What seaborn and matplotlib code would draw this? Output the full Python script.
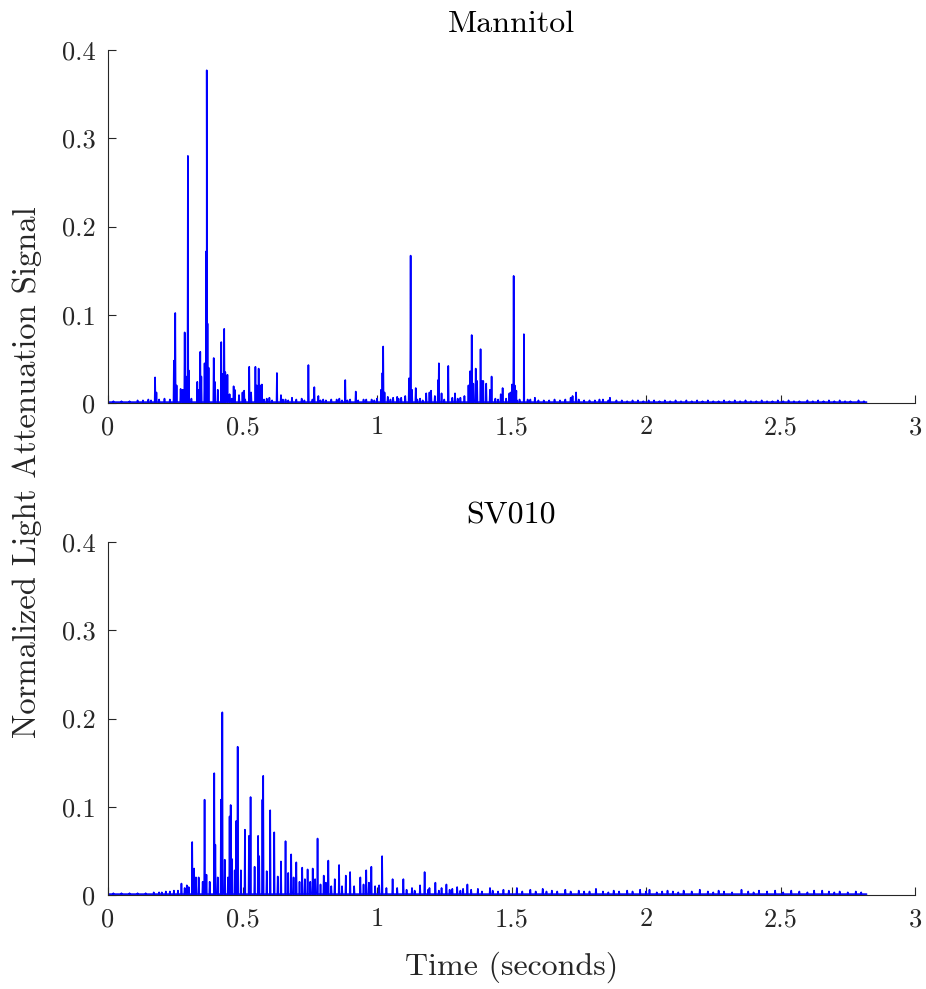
import numpy as np
import pandas as pd
import matplotlib
matplotlib.use("Agg")
import matplotlib.pyplot as plt
import seaborn as sns

# ---------------- data ----------------
titles = ["Mannitol", "SV010"]
x_ticks = [0, 0.5, 1, 1.5, 2, 2.5, 3]
x_tick_labels = ["0", "0.5", "1", "1.5", "2", "2.5", "3"]
y_ticks = [0, 0.1, 0.2, 0.3, 0.4]
y_tick_labels = ["0", "0.1", "0.2", "0.3", "0.4"]
x_label = "Time (seconds)"
y_label = "Normalized Light Attenuation Signal"
signal_start = 0.0
signal_end = 2.82
baseline_level = 0.001

# Mannitol: spike times (s) and heights
mannitol_t = [0.175, 0.180, 0.245, 0.250, 0.255, 0.270, 0.278, 0.285, 0.290, 0.297,
              0.300, 0.332, 0.337, 0.343, 0.347, 0.359, 0.363, 0.3655, 0.367, 0.370,
              0.374, 0.393, 0.397, 0.408, 0.421, 0.426, 0.432, 0.436, 0.444, 0.452,
              0.467, 0.471, 0.487, 0.500, 0.506, 0.525, 0.532, 0.548, 0.553, 0.560,
              0.566, 0.572, 0.590, 0.600, 0.628, 0.643, 0.660, 0.684, 0.720, 0.745,
              0.767, 0.782, 0.800, 0.830, 0.860, 0.882, 0.900, 0.921, 0.950, 0.980,
              1.000, 1.015, 1.020, 1.023, 1.028, 1.040, 1.060, 1.075, 1.090, 1.105,
              1.119, 1.125, 1.130, 1.144, 1.160, 1.183, 1.195, 1.201, 1.215, 1.227,
              1.230, 1.240, 1.265, 1.280, 1.290, 1.310, 1.325, 1.340, 1.346, 1.352,
              1.358, 1.367, 1.372, 1.385, 1.390, 1.395, 1.406, 1.420, 1.426, 1.440,
              1.460, 1.467, 1.480, 1.492, 1.497, 1.502, 1.508, 1.512, 1.518, 1.530,
              1.546, 1.547, 1.560, 1.587, 1.720, 1.727, 1.740, 1.827, 1.866]
mannitol_y = [0.029, 0.012, 0.048, 0.102, 0.020, 0.016, 0.015, 0.080, 0.030, 0.280,
              0.037, 0.024, 0.015, 0.058, 0.030, 0.045, 0.040, 0.172, 0.377, 0.090,
              0.040, 0.051, 0.024, 0.015, 0.069, 0.033, 0.084, 0.035, 0.032, 0.010,
              0.019, 0.015, 0.009, 0.012, 0.014, 0.041, 0.012, 0.041, 0.020, 0.039,
              0.020, 0.021, 0.005, 0.006, 0.034, 0.009, 0.004, 0.006, 0.005, 0.043,
              0.018, 0.008, 0.004, 0.004, 0.005, 0.026, 0.004, 0.013, 0.004, 0.004,
              0.005, 0.015, 0.034, 0.064, 0.012, 0.007, 0.006, 0.007, 0.006, 0.008,
              0.028, 0.167, 0.015, 0.017, 0.005, 0.011, 0.012, 0.014, 0.008, 0.026,
              0.045, 0.011, 0.042, 0.006, 0.011, 0.006, 0.008, 0.020, 0.036, 0.077,
              0.022, 0.039, 0.025, 0.061, 0.025, 0.025, 0.022, 0.015, 0.030, 0.005,
              0.010, 0.017, 0.005, 0.011, 0.012, 0.021, 0.144, 0.020, 0.014, 0.004,
              0.078, 0.041, 0.004, 0.006, 0.006, 0.008, 0.012, 0.004, 0.006]
# Mannitol: low-level background fluctuations
mannitol_noise_t = [0.02, 0.05, 0.08, 0.11, 0.13, 0.15, 0.16, 0.19, 0.21, 0.23,
                    0.31, 0.46, 0.51, 0.58, 0.61, 0.65, 0.67, 0.70, 0.73, 0.76,
                    0.79, 0.81, 0.85, 0.87, 0.89, 0.93, 0.96, 0.99, 1.05, 1.08,
                    1.15, 1.17, 1.25, 1.30, 1.45, 1.52, 1.57, 1.60, 1.62, 1.64,
                    1.66, 1.68, 1.70, 1.75, 1.77, 1.79, 1.81, 1.84, 1.86, 1.89,
                    1.91, 1.93, 1.95, 1.97, 1.99, 2.01, 2.03, 2.05, 2.07, 2.09,
                    2.11, 2.13, 2.15, 2.17, 2.19, 2.21, 2.23, 2.25, 2.27, 2.29,
                    2.31, 2.33, 2.35, 2.37, 2.39, 2.41, 2.43, 2.45, 2.47, 2.49,
                    2.51, 2.53, 2.55, 2.57, 2.60, 2.62, 2.64, 2.66, 2.68, 2.70,
                    2.72, 2.74, 2.76, 2.79, 2.81]
mannitol_noise_y = [0.002, 0.002, 0.002, 0.003, 0.003, 0.004, 0.003, 0.004, 0.005, 0.004,
                    0.005, 0.005, 0.004, 0.004, 0.003, 0.004, 0.003, 0.004, 0.003, 0.004,
                    0.003, 0.003, 0.004, 0.003, 0.003, 0.003, 0.004, 0.003, 0.004, 0.005,
                    0.004, 0.003, 0.004, 0.005, 0.004, 0.003, 0.004, 0.003, 0.003, 0.003,
                    0.004, 0.003, 0.004, 0.004, 0.003, 0.003, 0.003, 0.004, 0.003, 0.003,
                    0.003, 0.002, 0.003, 0.003, 0.002, 0.003, 0.003, 0.002, 0.003, 0.002,
                    0.003, 0.002, 0.003, 0.002, 0.003, 0.002, 0.003, 0.002, 0.002, 0.003,
                    0.002, 0.003, 0.002, 0.003, 0.002, 0.002, 0.003, 0.002, 0.002, 0.003,
                    0.002, 0.003, 0.002, 0.002, 0.003, 0.002, 0.003, 0.002, 0.003, 0.002,
                    0.003, 0.002, 0.002, 0.003, 0.002]

# SV010: spike times (s) and heights
sv010_t = [0.200, 0.215, 0.230, 0.245, 0.260, 0.273, 0.285, 0.293, 0.300, 0.313,
           0.320, 0.327, 0.337, 0.352, 0.359, 0.366, 0.378, 0.395, 0.399, 0.408,
           0.420, 0.425, 0.434, 0.446, 0.452, 0.456, 0.460, 0.471, 0.477, 0.482,
           0.494, 0.509, 0.524, 0.530, 0.545, 0.558, 0.562, 0.574, 0.577, 0.590,
           0.603, 0.618, 0.631, 0.643, 0.660, 0.670, 0.681, 0.690, 0.700, 0.712,
           0.722, 0.732, 0.742, 0.752, 0.761, 0.770, 0.779, 0.790, 0.802, 0.810,
           0.819, 0.830, 0.843, 0.859, 0.870, 0.884, 0.900, 0.915, 0.938, 0.950,
           0.960, 0.970, 0.979, 0.993, 1.008, 1.019, 1.035, 1.058, 1.075, 1.098,
           1.130, 1.160, 1.177, 1.195, 1.217, 1.240, 1.258, 1.280, 1.298, 1.320,
           1.336, 1.375, 1.420, 1.470, 1.520, 1.570, 1.616, 1.650, 1.700, 1.750,
           1.814, 1.880, 1.930, 1.978, 2.013, 2.080, 2.140, 2.200, 2.270, 2.355,
           2.420, 2.480, 2.540, 2.625, 2.655, 2.720, 2.780]
sv010_y = [0.003, 0.004, 0.004, 0.005, 0.005, 0.013, 0.008, 0.011, 0.009, 0.060,
           0.030, 0.020, 0.020, 0.015, 0.108, 0.023, 0.015, 0.138, 0.057, 0.020,
           0.108, 0.207, 0.040, 0.020, 0.089, 0.102, 0.041, 0.028, 0.084, 0.168,
           0.028, 0.074, 0.067, 0.111, 0.032, 0.067, 0.044, 0.108, 0.135, 0.027,
           0.096, 0.071, 0.021, 0.038, 0.061, 0.025, 0.046, 0.020, 0.037, 0.015,
           0.031, 0.018, 0.029, 0.015, 0.030, 0.018, 0.064, 0.012, 0.022, 0.014,
           0.039, 0.010, 0.018, 0.034, 0.010, 0.022, 0.026, 0.010, 0.020, 0.012,
           0.028, 0.014, 0.032, 0.010, 0.011, 0.044, 0.008, 0.018, 0.008, 0.018,
           0.008, 0.011, 0.026, 0.008, 0.014, 0.008, 0.012, 0.007, 0.009, 0.007,
           0.012, 0.007, 0.008, 0.006, 0.008, 0.006, 0.007, 0.005, 0.006, 0.005,
           0.007, 0.005, 0.005, 0.006, 0.006, 0.005, 0.005, 0.006, 0.005, 0.006,
           0.005, 0.005, 0.005, 0.005, 0.005, 0.004, 0.004]
# SV010: low-level background fluctuations
sv010_noise_t = [0.02, 0.05, 0.08, 0.11, 0.14, 0.17, 0.19, 1.11, 1.14, 1.19,
                 1.23, 1.27, 1.31, 1.35, 1.39, 1.43, 1.45, 1.49, 1.54, 1.59,
                 1.63, 1.67, 1.72, 1.77, 1.79, 1.84, 1.86, 1.90, 1.95, 2.00,
                 2.04, 2.06, 2.10, 2.12, 2.17, 2.23, 2.25, 2.29, 2.32, 2.38,
                 2.40, 2.45, 2.51, 2.57, 2.60, 2.68, 2.70, 2.75, 2.80]
sv010_noise_y = [0.002, 0.002, 0.002, 0.002, 0.002, 0.003, 0.003, 0.006, 0.005, 0.006,
                 0.005, 0.006, 0.005, 0.006, 0.004, 0.005, 0.004, 0.005, 0.004, 0.004,
                 0.004, 0.004, 0.004, 0.004, 0.004, 0.004, 0.003, 0.004, 0.004, 0.004,
                 0.003, 0.004, 0.004, 0.003, 0.004, 0.004, 0.003, 0.004, 0.003, 0.004,
                 0.003, 0.004, 0.003, 0.004, 0.003, 0.004, 0.003, 0.003, 0.003]

# ---------------- style ----------------
sns.set_theme(style="ticks")
plt.rcParams["font.family"] = ["cmr10", "DejaVu Serif"]
plt.rcParams["mathtext.fontset"] = "cm"
plt.rcParams["axes.formatter.use_mathtext"] = True
plt.rcParams["axes.unicode_minus"] = False

TXT = "#262626"
LINE = "#0000ff"
HALF_WIDTH = 0.0015


def spike_frame(times, heights, noise_t, noise_y):
    rows = []
    rows.append((signal_start, baseline_level))
    for t, h in list(zip(times, heights)) + list(zip(noise_t, noise_y)):
        rows.append((t - HALF_WIDTH, baseline_level))
        rows.append((t, h))
        rows.append((t + HALF_WIDTH, baseline_level))
    rows.append((signal_end, baseline_level))
    df = pd.DataFrame(rows, columns=["time", "signal"])
    return df.sort_values("time", kind="stable").reset_index(drop=True)


frames = [spike_frame(mannitol_t, mannitol_y, mannitol_noise_t, mannitol_noise_y),
          spike_frame(sv010_t, sv010_y, sv010_noise_t, sv010_noise_y)]

fig = plt.figure(figsize=(9.26, 9.89), dpi=100)
W, H = 926, 989
ax_left, ax_right = 108, 915
boxes = [(50, 403), (542, 895)]
axes = []
for (top, bottom) in boxes:
    ax = fig.add_axes([ax_left / W, 1 - bottom / H, (ax_right - ax_left) / W, (bottom - top) / H])
    axes.append(ax)

for ax, df, title in zip(axes, frames, titles):
    sns.lineplot(data=df, x="time", y="signal", ax=ax, sort=False, estimator=None,
                 color=LINE, linewidth=1.2)
    ax.set_xlim(0, 3)
    ax.set_ylim(0, 0.4)
    ax.set_xticks(x_ticks)
    ax.set_xticklabels(x_tick_labels)
    ax.set_yticks(y_ticks)
    ax.set_yticklabels(y_tick_labels)
    ax.set_xlabel("")
    ax.set_ylabel("")
    for s in ["top", "right"]:
        ax.spines[s].set_visible(False)
    for s in ["left", "bottom"]:
        ax.spines[s].set_color(TXT)
        ax.spines[s].set_linewidth(0.8)
    ax.tick_params(direction="in", length=6, width=0.8, color=TXT, labelcolor=TXT,
                   labelsize=19, pad=9)
    ax.set_title(title, fontsize=23, color="black", pad=13)

fig.text(511.5 / W, 1 - 967 / H, x_label, ha="center", va="center", fontsize=23, color=TXT)
fig.text(27 / W, 1 - 472.5 / H, y_label, ha="center", va="center", rotation=90,
         fontsize=23.5, color=TXT)

fig.savefig("out.png", dpi=100)
